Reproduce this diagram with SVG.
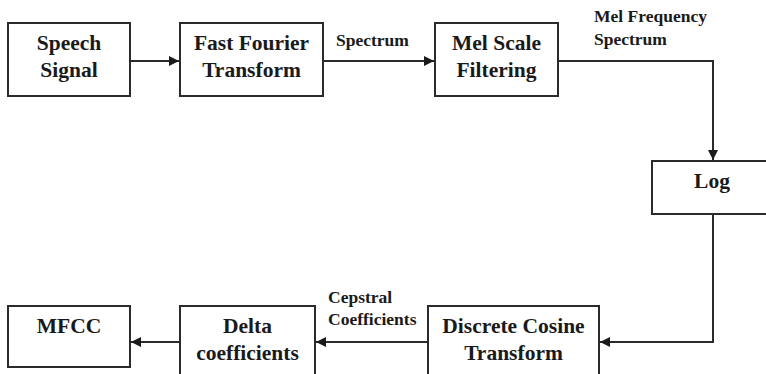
<svg xmlns="http://www.w3.org/2000/svg" width="766" height="374" viewBox="0 0 766 374">
<style>
.box{fill:#fff;stroke:#2b2b2b;stroke-width:2}
.t{font-family:'Liberation Serif','DejaVu Serif','Noto Serif',serif;font-weight:700;font-size:21.5px;fill:#1a1a1a;text-anchor:middle}
.l{font-family:'Liberation Serif','DejaVu Serif','Noto Serif',serif;font-weight:700;font-size:17.5px;fill:#1a1a1a}
.c{fill:none;stroke:#2b2b2b;stroke-width:2}
</style>
<defs>
<marker id="ah" viewBox="0 0 10 10" refX="10" refY="5" markerWidth="10" markerHeight="10" markerUnits="userSpaceOnUse" orient="auto">
<path d="M0,0 L10,5 L0,10 Z" fill="#1a1a1a"/>
</marker>
</defs>
<rect width="766" height="374" fill="#fff"/>
<g id="connectors">
<path class="c" d="M130,61 H179" marker-end="url(#ah)"/>
<path class="c" d="M323,61 H434" marker-end="url(#ah)"/>
<path class="c" d="M558,61 H713 V160" marker-end="url(#ah)"/>
<path class="c" d="M713,214 V342 H600" marker-end="url(#ah)"/>
<path class="c" d="M428,342 H316" marker-end="url(#ah)"/>
<path class="c" d="M180,342 H131" marker-end="url(#ah)"/>
<text class="l" x="336" y="46">Spectrum</text>
<text class="l" x="594" y="22">Mel Frequency</text>
<text class="l" x="594" y="45">Spectrum</text>
<text class="l" x="328" y="303">Cepstral</text>
<text class="l" x="328" y="325">Coefficients</text>
</g>
<g id="speech">
<rect class="box" x="8" y="23" width="122" height="73"/>
<text class="t" x="69" y="50">Speech</text>
<text class="t" x="69" y="77">Signal</text>
</g>
<g id="fft">
<rect class="box" x="180" y="23" width="143" height="73"/>
<text class="t" x="251.5" y="50">Fast Fourier</text>
<text class="t" x="251.5" y="77">Transform</text>
</g>
<g id="mel">
<rect class="box" x="435" y="23" width="123" height="73"/>
<text class="t" x="496.5" y="50">Mel Scale</text>
<text class="t" x="496.5" y="77">Filtering</text>
</g>
<g id="log">
<rect class="box" x="652" y="161" width="130" height="53"/>
<text class="t" x="712" y="188">Log</text>
</g>
<g id="dct">
<rect class="box" x="428" y="306" width="171" height="80"/>
<text class="t" x="513.5" y="333">Discrete Cosine</text>
<text class="t" x="513.5" y="360">Transform</text>
</g>
<g id="delta">
<rect class="box" x="180" y="306" width="135" height="80"/>
<text class="t" x="247.5" y="333">Delta</text>
<text class="t" x="247.5" y="360">coefficients</text>
</g>
<g id="mfcc">
<rect class="box" x="8" y="306" width="122" height="61"/>
<text class="t" x="69" y="333">MFCC</text>
</g>
</svg>
